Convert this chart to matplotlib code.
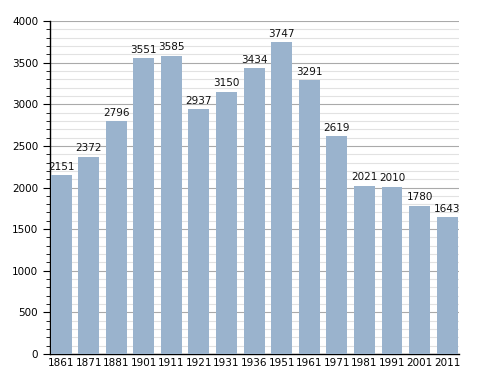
import matplotlib
matplotlib.use("Agg")
import matplotlib.pyplot as plt
from matplotlib.ticker import MultipleLocator

years = ["1861", "1871", "1881", "1901", "1911", "1921", "1931", "1936",
         "1951", "1961", "1971", "1981", "1991", "2001", "2011"]
population = [2151, 2372, 2796, 3551, 3585, 2937, 3150, 3434,
              3747, 3291, 2619, 2021, 2010, 1780, 1643]

fig = plt.figure(figsize=(4.88, 3.73), dpi=100)
ax = fig.add_axes([50/488, 19/373, 409/488, 333/373])
x = list(range(len(years)))
ax.bar(x, population, width=0.76, color="#9ab3cd", zorder=3)
for xi, v in zip(x, population):
    ax.text(xi, v + 40, str(v), ha="center", va="bottom", fontsize=7.5,
            color="#111111", zorder=4)

ax.set_xlim(-0.40, len(years) - 0.57)
ax.set_ylim(0, 4000)
ax.set_xticks(x)
ax.set_xticklabels(years)
ax.yaxis.set_major_locator(MultipleLocator(500))
ax.yaxis.set_minor_locator(MultipleLocator(100))
ax.grid(axis="y", which="major", color="#aaaaaa", linewidth=0.8, zorder=0)
ax.grid(axis="y", which="minor", color="#e2e2e2", linewidth=0.8, zorder=0)
for s in ["top", "right"]:
    ax.spines[s].set_visible(False)
ax.spines["left"].set_linewidth(1.0)
ax.spines["bottom"].set_linewidth(1.0)
ax.tick_params(axis="x", length=0, labelsize=7.5, pad=3)
ax.tick_params(axis="y", which="major", length=5, labelsize=7.5)
ax.tick_params(axis="y", which="minor", length=3)
ax.tick_params(axis="y", which="both", direction="out")

fig.savefig("out.png", dpi=100)
